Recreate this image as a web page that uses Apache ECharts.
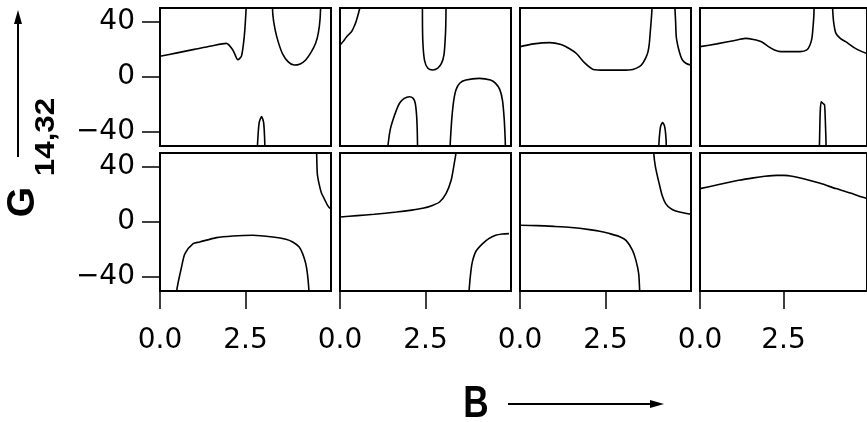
<!DOCTYPE html>
<html>
<head>
<meta charset="utf-8">
<script src="https://cdn.jsdelivr.net/npm/echarts@6/dist/echarts.min.js"></script>
<style>
html,body{margin:0;padding:0;background:#fff;}
#chart{width:867px;height:422px;}
</style>
</head>
<body>
<div id="chart"></div>
<script>
// ---- tick values / labels ----
const B_TICKS = [0, 2.5];
const G_TICKS = [-40, 0, 40];
const B_RANGE = [0, 5];
const G_RANGE = [-50, 50];

// ---- top row curves [B, G] ----
const T1_A = [[0,15],[0.5,17.5],[1,20],[1.5,22.5],[1.94,24.4],[2.13,19.6],[2.28,12.5],[2.38,15],[2.44,24],[2.48,34],[2.52,50],[2.54,60]];
const T1_B = [[3.28,60],[3.30,45],[3.36,35],[3.45,26],[3.58,17],[3.75,11],[3.92,8.7],[4.1,9.5],[4.26,12.3],[4.42,18],[4.55,24.4],[4.63,32],[4.68,42],[4.71,60]];
const T1_C = [[2.84,-55],[2.86,-45],[2.9,-33],[2.97,-28.7],[3.03,-33],[3.06,-45],[3.07,-55]];

const T2_A = [[0,23],[0.1,26],[0.19,29],[0.34,33],[0.42,37],[0.48,41],[0.58,50],[0.6,54]];
const T2_B = [[2.41,60],[2.41,50],[2.42,27],[2.47,12.3],[2.57,6.3],[2.71,5.1],[2.86,6.5],[2.97,10],[3.04,16],[3.07,25],[3.09,35],[3.1,50],[3.1,60]];
const T2_C = [[1.39,-55],[1.41,-48],[1.47,-38],[1.55,-31],[1.65,-24],[1.74,-19],[1.88,-15.5],[2.03,-14.3],[2.14,-15.5],[2.2,-19],[2.24,-28],[2.26,-40],[2.27,-55]];
const T2_D = [[3.21,-55],[3.23,-45],[3.27,-30],[3.32,-18],[3.39,-9.4],[3.5,-4.5],[3.68,-2.2],[4.07,-1],[4.4,-2.2],[4.55,-4.6],[4.67,-9],[4.75,-16.7],[4.8,-30],[4.83,-45],[4.84,-55]];

const T3_A = [[0,22],[0.4,24],[0.87,24.9],[1.2,23.5],[1.45,20.5],[1.65,17],[1.9,10],[2.14,5.5],[2.5,5],[3.0,5],[3.3,5.5],[3.49,7.5],[3.59,10],[3.68,14],[3.74,18],[3.78,24],[3.81,33],[3.84,42],[3.86,50],[3.87,60]];
const T3_B = [[4.52,60],[4.53,50],[4.55,40],[4.57,29],[4.63,21],[4.7,15],[4.75,12.3],[4.85,10],[5.0,8.5]];
const T3_C = [[4.05,-55],[4.07,-45],[4.11,-36],[4.17,-33],[4.23,-36],[4.27,-45],[4.28,-55]];

const T4_A = [[0,22],[0.5,24],[1.0,26.3],[1.36,28],[1.6,27.2],[1.84,25.6],[2.05,22],[2.23,19.6],[2.42,18.4],[3.0,18.4],[3.2,19.6],[3.29,23],[3.35,28],[3.38,35],[3.41,45],[3.42,60]];
const T4_B = [[3.96,60],[3.97,50],[4.0,40],[4.07,31.6],[4.2,28],[4.36,25.6],[4.6,21.5],[4.85,18.4],[5.0,17]];
const T4_C = [[3.57,-55],[3.58,-45],[3.6,-25],[3.63,-17.9],[3.7,-19.5],[3.73,-20.3],[3.75,-30],[3.77,-45],[3.78,-55]];

// ---- bottom row curves [B, G] ----
const U1_A = [[0.48,-55],[0.5,-48],[0.63,-32.6],[0.73,-22.9],[0.97,-15.7],[1.16,-14.5],[1.65,-11.3],[2.13,-10.1],[2.71,-9.6],[3.3,-10.9],[3.68,-12.5],[3.88,-14.5],[4.07,-18.1],[4.17,-22.9],[4.26,-30],[4.31,-37.4],[4.35,-48],[4.36,-55]];
const U1_B = [[4.57,60],[4.58,50],[4.6,35],[4.65,27.8],[4.72,21],[4.8,17],[4.9,12],[4.97,9.7]];

const U2_A = [[0,3.6],[0.5,4.6],[1.0,5.6],[1.65,7.2],[2.1,8.6],[2.42,9.9],[2.7,12],[2.91,14.5],[3.1,20.6],[3.25,30.2],[3.34,42.3],[3.39,50],[3.41,60]];
const U2_B = [[3.77,-55],[3.78,-48],[3.83,-35],[3.88,-27.8],[3.98,-21],[4.17,-15.7],[4.35,-12],[4.55,-9.6],[4.75,-8.7],[4.94,-8.4]];

const U3_A = [[0,-2.4],[0.5,-2.6],[1.0,-3.2],[1.5,-4.0],[2.03,-5.5],[2.33,-6.7],[2.62,-8.4],[2.9,-10.5],[3.1,-13.3],[3.29,-20.5],[3.39,-27.8],[3.47,-37.4],[3.5,-50],[3.51,-55]];
const U3_B = [[3.9,60],[3.91,50],[3.96,40],[4.07,27.8],[4.16,19],[4.26,13.3],[4.4,9.8],[4.55,8],[4.8,6.5],[4.99,5.6]];

const U4_A = [[0,24.2],[0.5,26.8],[1.16,30.2],[1.6,32],[1.94,33.1],[2.3,33.8],[2.52,33.8],[2.8,33],[3.1,31.4],[3.6,28],[4.07,24.2],[4.5,21],[4.85,18.1],[5.0,17]];

const PANELS = [
  [T1_A, T1_B, T1_C], [T2_A, T2_B, T2_C, T2_D], [T3_A, T3_B, T3_C], [T4_A, T4_B, T4_C],
  [U1_A, U1_B], [U2_A, U2_B], [U3_A, U3_B], [U4_A]
];

// ---- layout ----
const COL_LEFT = [160, 340, 520, 700];
const PANEL_W = 171;
const ROW_TOP = [8, 153];
const PANEL_H = 138;

const TICK_FONT = 'DejaVu Sans';
const grids = [], xAxes = [], yAxes = [], series = [];
PANELS.forEach((branches, i) => {
  const row = Math.floor(i / 4), col = i % 4;
  grids.push({
    left: COL_LEFT[col], top: ROW_TOP[row], width: PANEL_W, height: PANEL_H,
    show: true, borderColor: '#000', borderWidth: 2, backgroundColor: 'transparent',
    containLabel: false
  });
  const bottom = row === 1;
  xAxes.push({
    type: 'value', gridIndex: i, min: B_RANGE[0], max: B_RANGE[1],
    splitLine: { show: false },
    axisLine: { show: bottom, onZero: false, lineStyle: { color: '#000', width: 2 } },
    axisTick: { show: bottom, customValues: B_TICKS, length: 18, lineStyle: { color: '#000', width: 1.5 } },
    axisLabel: {
      show: bottom, customValues: B_TICKS, margin: 36,
      fontFamily: TICK_FONT, fontSize: 28, color: '#000',
      formatter: v => v.toFixed(1)
    }
  });
  const first = col === 0;
  yAxes.push({
    type: 'value', gridIndex: i, min: G_RANGE[0], max: G_RANGE[1],
    splitLine: { show: false },
    axisLine: { show: true, lineStyle: { color: '#000', width: 2 } },
    axisTick: { show: first, customValues: G_TICKS, length: 18, lineStyle: { color: '#000', width: 1.5 } },
    axisLabel: {
      show: first, customValues: G_TICKS, margin: 25,
      fontFamily: TICK_FONT, fontSize: 28, color: '#000',
      formatter: v => (v < 0 ? '\u2212' + Math.abs(v) : String(v))
    }
  });
  branches.forEach(d => {
    series.push({
      type: 'line', xAxisIndex: i, yAxisIndex: i, data: d,
      showSymbol: false, symbol: 'none', smooth: 0.25, clip: true,
      lineStyle: { color: '#000', width: 1.6 }, silent: true
    });
  });
});

const chart = echarts.init(document.getElementById('chart'), null, { renderer: 'canvas' });
chart.setOption({
  animation: false,
  backgroundColor: '#fff',
  grid: grids, xAxis: xAxes, yAxis: yAxes, series: series,
  graphic: [
    { type: 'line', shape: { x1: 18, y1: 157, x2: 18, y2: 20 }, style: { stroke: '#000', lineWidth: 2 } },
    { type: 'polygon', shape: { points: [[14, 24], [18, 10], [22, 24]] }, style: { fill: '#000' } },
    { type: 'text', x: 23, y: 202, rotation: Math.PI / 2,
      style: { text: 'G', fontFamily: 'Liberation Sans', fontWeight: 'bold', fontSize: 39, fill: '#000',
               align: 'center', verticalAlign: 'middle', textAlign: 'center', textVerticalAlign: 'middle' } },
    { type: 'text', x: 46, y: 137, rotation: Math.PI / 2, scaleX: 1.12,
      style: { text: '14,32', fontFamily: 'Liberation Sans', fontWeight: 'bold', fontSize: 28, fill: '#000',
               align: 'center', verticalAlign: 'middle', textAlign: 'center', textVerticalAlign: 'middle' } },
    { type: 'text', x: 476, y: 405, scaleX: 0.8,
      style: { text: 'B', fontFamily: 'Liberation Sans', fontWeight: 'bold', fontSize: 44, fill: '#000',
               align: 'center', verticalAlign: 'middle', textAlign: 'center', textVerticalAlign: 'middle' } },
    { type: 'line', shape: { x1: 508, y1: 404, x2: 654, y2: 404 }, style: { stroke: '#000', lineWidth: 2 } },
    { type: 'polygon', shape: { points: [[650, 400], [664, 404], [650, 408]] }, style: { fill: '#000' } }
  ]
});
</script>
</body>
</html>
